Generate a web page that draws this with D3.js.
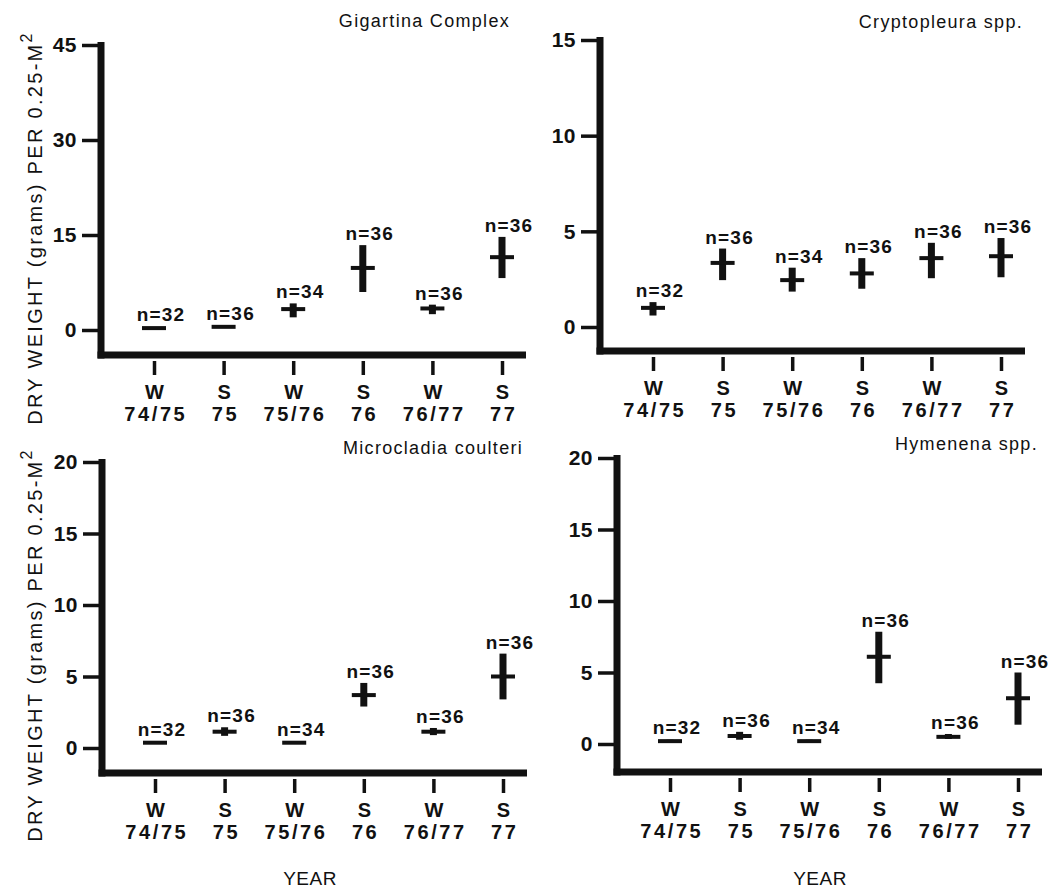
<!DOCTYPE html>
<html>
<head>
<meta charset="utf-8">
<style>
    body { margin: 0; background: #fff; }
    svg { background: #fff; }
    text { font-family: "Liberation Sans", Arial, sans-serif; fill: #111; }
    .tick-lab { font-size: 21px; font-weight: bold; letter-spacing: 0.5px; }
    .n-lab { font-size: 19px; font-weight: bold; letter-spacing: 1.2px; }
    .cat-lab { font-size: 20px; font-weight: bold; letter-spacing: 2.6px; }
    .title { font-size: 18px; letter-spacing: 1.3px; }
    .ylab { font-size: 20px; letter-spacing: 2.3px; }
    .xlab { font-size: 19px; letter-spacing: 0.5px; }
</style>
</head>
<body>
<script src="https://d3js.org/d3.v7.min.js"></script>
<script>

    // x categories (season / year)
    var seasons = ["W", "S", "W", "S", "W", "S"];
    var years = ["74/75", "75", "75/76", "76", "76/77", "77"];
    var sampleSizes = [32, 36, 34, 36, 36, 36];

    var titles = ["Gigartina Complex", "Cryptopleura spp.", "Microcladia coulteri", "Hymenena spp."];

    // mean dry weight and range
    var gigartinaMean = [0.3, 0.5, 3.3, 9.8, 3.4, 11.5];
    var gigartinaLow  = [0.2, 0.4, 2.0, 6.0, 2.5, 8.2];
    var gigartinaHigh = [0.4, 0.6, 4.2, 13.4, 4.0, 14.7];

    var cryptoMean = [1.0, 3.35, 2.45, 2.8, 3.6, 3.7];
    var cryptoLow  = [0.6, 2.45, 1.85, 2.0, 2.55, 2.6];
    var cryptoHigh = [1.3, 4.1, 3.1, 3.6, 4.4, 4.65];

    var microMean = [0.37, 1.14, 0.37, 3.7, 1.14, 5.0];
    var microLow  = [0.3, 0.85, 0.3, 2.9, 0.9, 3.4];
    var microHigh = [0.45, 1.45, 0.45, 4.55, 1.4, 6.6];

    var hymenMean = [0.2, 0.56, 0.2, 6.1, 0.5, 3.2];
    var hymenLow  = [0.15, 0.3, 0.15, 4.25, 0.35, 1.35];
    var hymenHigh = [0.3, 0.85, 0.3, 7.85, 0.7, 5.0];

    var gigartinaTicks = [0, 15, 30, 45];
    var cryptoTicks = [0, 5, 10, 15];
    var microTicks = [0, 5, 10, 15, 20];
    var hymenTicks = [0, 5, 10, 15, 20];

    var panels = [
        { title: titles[0], mean: gigartinaMean, lo: gigartinaLow, hi: gigartinaHigh, ticks: gigartinaTicks },
        { title: titles[1], mean: cryptoMean, lo: cryptoLow, hi: cryptoHigh, ticks: cryptoTicks },
        { title: titles[2], mean: microMean, lo: microLow, hi: microHigh, ticks: microTicks },
        { title: titles[3], mean: hymenMean, lo: hymenLow, hi: hymenHigh, ticks: hymenTicks }
    ];

    // panel placement on the page
    var layout = [
        { x0: 101, yTop: 45, yZero: 330, axisY: 355, titleX: 510, titleY: 27, titleAnchor: "end" },
        { x0: 600, yTop: 40, yZero: 327, axisY: 351, titleX: 1023, titleY: 28, titleAnchor: "end" },
        { x0: 102, yTop: 462, yZero: 748, axisY: 773, titleX: 343, titleY: 454, titleAnchor: "start" },
        { x0: 617, yTop: 458, yZero: 744, axisY: 772, titleX: 1038, titleY: 450, titleAnchor: "end" }
    ];

    var width = 1062, height = 892;

    var svg = d3.select("body").append("svg")
        .attr("width", width)
        .attr("height", height);

    panels.forEach(function(p, i) {
        var L = layout[i];
        var g = svg.append("g").attr("class", "panel");

        var y = d3.scaleLinear()
            .domain([0, d3.max(p.ticks)])
            .range([L.yZero, L.yTop]);

        var x = d3.scalePoint()
            .domain(d3.range(seasons.length))
            .range([L.x0 + 53, L.x0 + 401]);

        // left ticks
        var yAxis = g.append("g")
            .attr("transform", "translate(" + L.x0 + ",0)")
            .call(d3.axisLeft(y).tickValues(p.ticks).tickSize(19).tickPadding(5));
        yAxis.select(".domain").remove();
        yAxis.selectAll(".tick line").attr("stroke", "#111").attr("stroke-width", 3.5);
        yAxis.selectAll(".tick text").attr("class", "tick-lab").attr("font-size", null).attr("font-family", null);

        // bottom ticks with two-line labels
        var xAxis = g.append("g")
            .attr("transform", "translate(0," + (L.axisY + 6) + ")")
            .call(d3.axisBottom(x).tickSize(14).tickFormat(""));
        xAxis.select(".domain").remove();
        xAxis.selectAll(".tick line").attr("stroke", "#111").attr("stroke-width", 3.5);
        xAxis.selectAll(".tick").append("text")
            .attr("class", "cat-lab")
            .attr("text-anchor", "middle")
            .attr("y", 38)
            .attr("dx", 1.3)
            .text(function(d) { return seasons[d]; });
        xAxis.selectAll(".tick").append("text")
            .attr("class", "cat-lab")
            .attr("text-anchor", "middle")
            .attr("y", 60)
            .attr("dx", 1.3)
            .text(function(d) { return years[d]; });

        // heavy axis lines
        g.append("line")
            .attr("x1", L.x0).attr("x2", L.x0)
            .attr("y1", L.yTop - 3).attr("y2", L.axisY + 3.5)
            .attr("stroke", "#111").attr("stroke-width", 7);
        g.append("line")
            .attr("x1", L.x0 - 3.5).attr("x2", L.x0 + 425)
            .attr("y1", L.axisY).attr("y2", L.axisY)
            .attr("stroke", "#111").attr("stroke-width", 7);

        var idx = d3.range(seasons.length);

        // range bars
        g.selectAll(".range").data(idx).enter().append("rect")
            .attr("class", "range")
            .attr("x", function(d) { return x(d) - 3.5; })
            .attr("width", 7)
            .attr("y", function(d) { return y(p.hi[d]); })
            .attr("height", function(d) { return y(p.lo[d]) - y(p.hi[d]); })
            .attr("fill", "#111");

        // mean crossbars
        g.selectAll(".mean").data(idx).enter().append("rect")
            .attr("class", "mean")
            .attr("x", function(d) { return x(d) - 12; })
            .attr("width", 24)
            .attr("y", function(d) { return y(p.mean[d]) - 2; })
            .attr("height", 4)
            .attr("fill", "#111");

        // sample sizes
        g.selectAll(".n-lab").data(idx).enter().append("text")
            .attr("class", "n-lab")
            .attr("text-anchor", "middle")
            .attr("x", function(d) { return x(d) + 7; })
            .attr("y", function(d) { return Math.min(y(p.hi[d]), y(p.mean[d]) - 2) - 5; })
            .text(function(d) { return "n=" + sampleSizes[d]; });

        g.append("text")
            .attr("class", "title")
            .attr("x", L.titleX)
            .attr("y", L.titleY)
            .attr("text-anchor", L.titleAnchor)
            .text(p.title);
    });

    // y axis titles (one per row)
    [228, 645].forEach(function(cy) {
        var t = svg.append("text")
            .attr("class", "ylab")
            .attr("text-anchor", "middle")
            .attr("transform", "translate(42," + cy + ") rotate(-90)");
        t.append("tspan").text("DRY WEIGHT (grams) PER 0.25-M");
        t.append("tspan").attr("dy", -10).attr("font-size", 16).text("2");
    });

    // x axis titles
    [310, 820].forEach(function(cx) {
        svg.append("text")
            .attr("class", "xlab")
            .attr("text-anchor", "middle")
            .attr("x", cx)
            .attr("y", 885)
            .text("YEAR");
    });

</script>
</body>
</html>
